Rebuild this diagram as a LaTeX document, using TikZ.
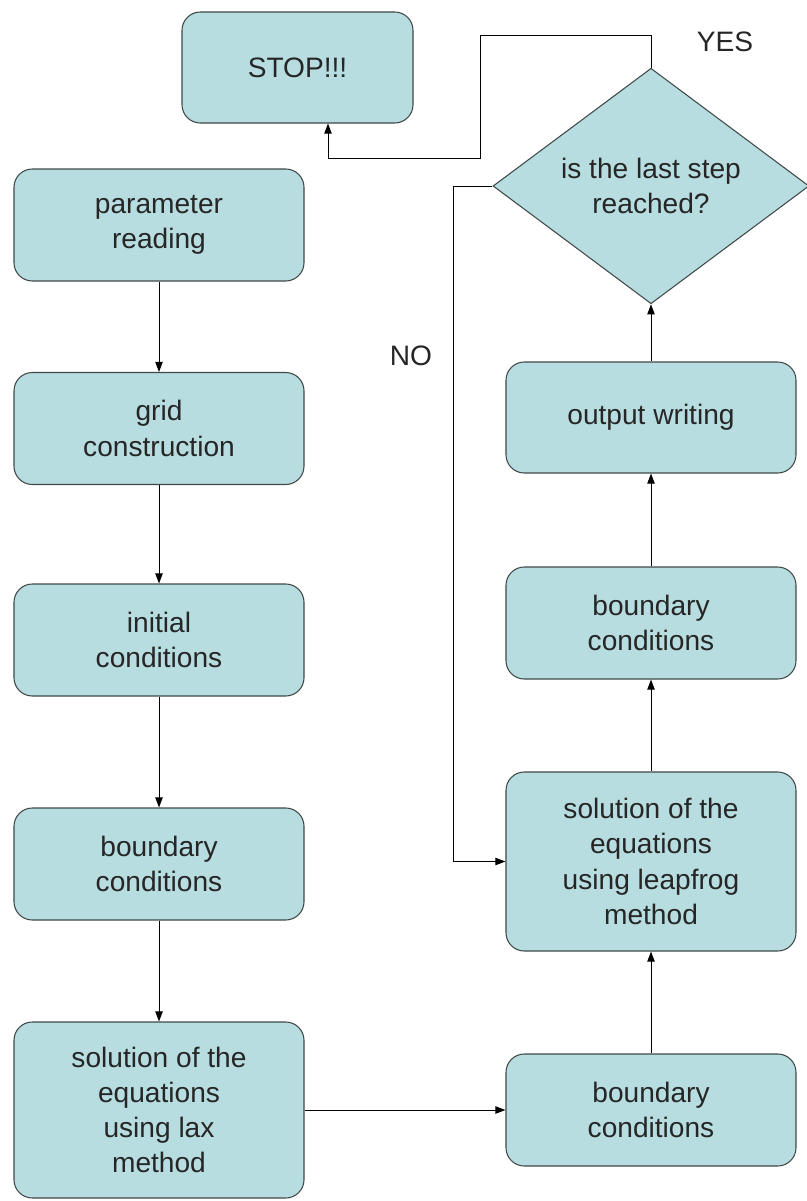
\documentclass[tikz,border=0pt]{standalone}
\usepackage{fontspec}
\setmainfont{Liberation Sans}
\usepackage{xcolor}
\usepackage{tikz}
\usetikzlibrary{shapes.geometric,arrows.meta}
\definecolor{boxfill}{RGB}{183,221,224}
\definecolor{boxline}{RGB}{64,72,72}

\begin{document}
\begin{tikzpicture}[
    x=0.03cm, y=-0.03cm,
    every node/.style={font=\fontsize{24}{30}\selectfont, align=center, inner sep=0pt, text=black!85},
    box/.style={draw=boxline, fill=boxfill, rounded corners=0.55cm, minimum width=8.7cm, minimum height=3.36cm, line width=0.9pt},
    decision/.style={draw=boxline, fill=boxfill, diamond, minimum width=9.48cm, minimum height=6.96cm, line width=0.9pt},
    flow/.style={-{Triangle[length=0.3cm,width=0.22cm]}, line width=0.8pt}
  ]
    \useasboundingbox (0,0) rectangle (806,1201);

    \node[box, minimum width=6.93cm, minimum height=3.33cm] (stop) at (297.5,67.5) {STOP!!!};
    \node[decision] (dec) at (651,186) {is the last step\\reached?};

    \node[box] (param) at (159,225) {parameter\\reading};
    \node[box] (grid) at (159,428.5) {grid\\construction};
    \node[box] (init) at (159,640) {initial\\conditions};
    \node[box] (bndl) at (159,864) {boundary\\conditions};
    \node[box, minimum height=5.28cm] (lax) at (159,1110) {solution of the\\equations\\using lax\\method};

    \node[box] (bndr) at (651,1110) {boundary\\conditions};
    \node[box, minimum height=5.37cm] (leap) at (651,861.5) {solution of the\\equations\\using leapfrog\\method};
    \node[box] (bndm) at (651,623) {boundary\\conditions};
    \node[box, minimum height=3.33cm] (outw) at (651,417.5) {output writing};

    \node (yes) at (725,42) {YES};
    \node (no) at (411,356) {NO};

    \coordinate (yesa) at (480,35);
    \coordinate (yesb) at (328,158);
    \coordinate (nox) at (453,0);

    \draw[flow] (param) -- (grid);
    \draw[flow] (grid) -- (init);
    \draw[flow] (init) -- (bndl);
    \draw[flow] (bndl) -- (lax);
    \draw[flow] (lax) -- (bndr);
    \draw[flow] (bndr) -- (leap);
    \draw[flow] (leap) -- (bndm);
    \draw[flow] (bndm) -- (outw);
    \draw[flow] (outw) -- (dec);
    \draw[flow] (dec.north) |- (yesa) |- (yesb) -- (yesb |- stop.south);
    \draw[flow] (dec.west) -| (nox |- leap.west) -- (leap.west);
  \end{tikzpicture}
\end{document}
